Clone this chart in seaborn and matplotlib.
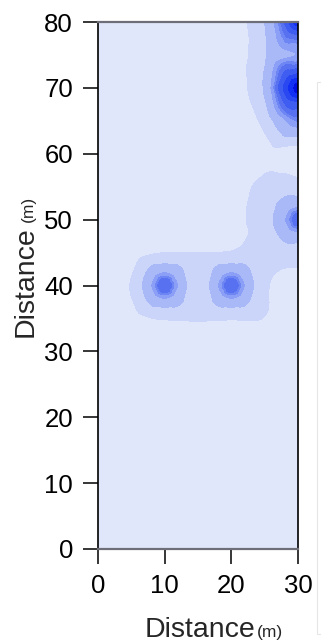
import numpy as np
import matplotlib
matplotlib.use("Agg")
import matplotlib.pyplot as plt
import matplotlib.tri as mtri
from matplotlib.patches import Rectangle
import seaborn as sns

# ---- data ----
x_dist = [0, 5, 10, 15, 20, 25, 30]
y_dist = [0, 5, 10, 15, 20, 25, 30, 35, 40, 45, 50, 55, 60, 65, 70, 75, 80]
# anomaly values on the 5 m survey grid, one row per y_dist (bottom to top)
row_00 = [0, 0, 0, 0, 0, 0, 0]
row_05 = [0, 0, 0, 0, 0, 0, 0]
row_10 = [0, 0, 0, 0, 0, 0, 0]
row_15 = [0, 0, 0, 0, 0, 0, 0]
row_20 = [0, 0, 0, 0, 0, 0, 0]
row_25 = [0, 0, 0, 0, 0, 0, 0]
row_30 = [0, 0, 0, 0, 0, 0, 0]
row_35 = [0, 0.45, 1.1, 1.1, 1.1, 0.95, 0.7]
row_40 = [0, 1.1, 6.0, 1.3, 6.0, 1.2, 0.5]
row_45 = [0, 0.35, 1.0, 1.0, 1.1, 1.4, 1.7]
row_50 = [0, 0, 0, 0, 0.5, 1.8, 6.0]
row_55 = [0, 0, 0, 0, 0.3, 1.5, 1.7]
row_60 = [0, 0, 0, 0, 0, 0.4, 0.2]
row_65 = [0, 0, 0, 0, 0.1, 1.5, 4.8]
row_70 = [0, 0, 0, 0, 0.3, 2.6, 9.5]
row_75 = [0, 0, 0, 0, 0.3, 2.2, 4.0]
row_80 = [0, 0, 0, 0, 0.3, 2.4, 8.8]
# extra readings close to the anomaly centres
near_x = [12.5, 11.8, 10.0, 8.2, 7.5, 8.2, 10.0, 11.8,
          22.5, 21.8, 20.0, 18.2, 17.5, 18.2, 20.0, 21.8,
          27.5, 28.2, 30.0, 28.2, 30.0,
          27.5, 28.2, 30.0, 28.2, 30.0,
          27.5, 28.2, 30.0]
near_y = [40.0, 41.8, 42.5, 41.8, 40.0, 38.2, 37.5, 38.2,
          40.0, 41.8, 42.5, 41.8, 40.0, 38.2, 37.5, 38.2,
          50.0, 51.8, 52.5, 48.2, 47.5,
          70.0, 71.8, 72.5, 68.2, 67.5,
          80.0, 78.2, 77.5]
near_v = [3.2, 3.2, 3.2, 3.2, 3.2, 3.2, 3.2, 3.2,
          3.2, 3.2, 3.2, 3.2, 3.2, 3.2, 3.2, 3.2,
          3.2, 3.2, 3.2, 3.2, 3.2,
          6.6, 6.6, 6.6, 6.6, 6.6,
          5.4, 5.4, 5.4]
x_ticks = [0, 10, 20, 30]
y_ticks = [0, 10, 20, 30, 40, 50, 60, 70, 80]
contour_levels = [-10, 1, 2.4, 3.9, 4.7, 5.2, 6, 7, 8, 9, 20]
band_colors = ["#e1e7fb", "#cbd5fa", "#a9b8f7", "#8a9ff5", "#6e86f3",
               "#5771f1", "#405df1", "#2a48f2", "#1230f4", "#0010e0"]

sns.set_theme(style="ticks")
plt.rcParams["font.family"] = ["Liberation Sans", "DejaVu Sans"]

fig = plt.figure(figsize=(3.21, 6.43), dpi=100)
W, H = 321, 643
ax = fig.add_axes([98 / W, 94 / H, 200 / W, 527 / H])

grid = np.array([row_00, row_05, row_10, row_15, row_20, row_25, row_30, row_35,
                 row_40, row_45, row_50, row_55, row_60, row_65, row_70, row_75,
                 row_80], dtype=float)
gx, gy = np.meshgrid(x_dist, y_dist)
px = np.concatenate([gx.ravel(), near_x])
py = np.concatenate([gy.ravel(), near_y])
pv = np.concatenate([grid.ravel(), near_v])
tri = mtri.Triangulation(px, py)
interp = mtri.CubicTriInterpolator(tri, pv, kind="geom")
refiner = mtri.UniformTriRefiner(tri)
tri_f, z_f = refiner.refine_field(pv, triinterpolator=interp, subdiv=4)
ax.tricontourf(tri_f, z_f, levels=contour_levels, colors=band_colors)

ax.set_xlim(0, 30)
ax.set_ylim(0, 80)
ax.set_xticks(x_ticks)
ax.set_yticks(y_ticks)
ax.tick_params(direction="out", length=11, width=1.1, labelsize=18.5,
               pad=7, color="black", labelcolor="black")
for side in ["left", "right"]:
    ax.spines[side].set_color("black")
    ax.spines[side].set_linewidth(1.2)
for side in ["top", "bottom"]:
    ax.spines[side].set_color("#6e6e78")
    ax.spines[side].set_linewidth(1.6)

# axis labels with smaller unit text
fig.text(255 / W, (H - 637) / H, "Distance", fontsize=20.5, ha="right",
         va="baseline")
fig.text(257 / W, (H - 637) / H, "(m)", fontsize=12.5, ha="left",
         va="baseline")
fig.text(33 / W, (H - 226) / H, "Distance", fontsize=20.5, rotation=90,
         rotation_mode="anchor", ha="right", va="baseline")
fig.text(33 / W, (H - 222) / H, "(m)", fontsize=12.5, rotation=90,
         rotation_mode="anchor", ha="left", va="baseline")

# faint clipped frame at the right edge
fig.patches.append(Rectangle((317 / W, (H - 634) / H), 20 / W, 552 / H,
                             transform=fig.transFigure, fill=False,
                             edgecolor="#e6e6e6", linewidth=0.8))

fig.savefig("out.png", dpi=100)
